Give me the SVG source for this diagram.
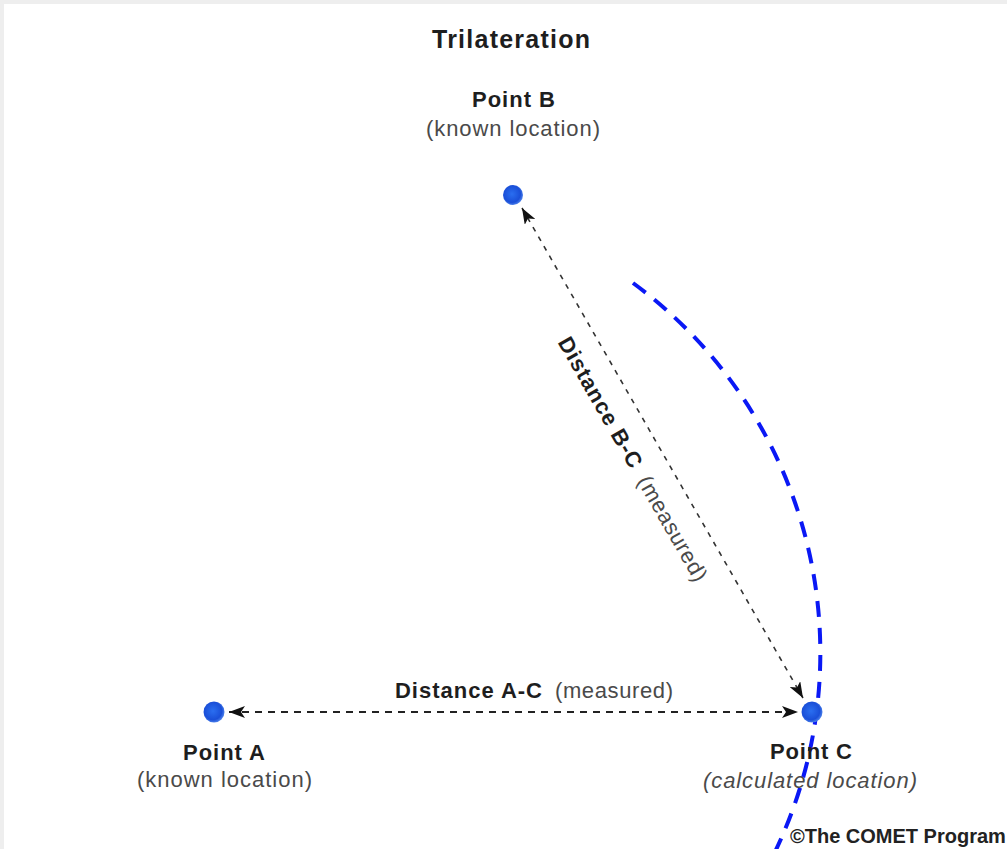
<svg xmlns="http://www.w3.org/2000/svg" width="1007" height="849" viewBox="0 0 1007 849">
<style>
.b{font-family:"Liberation Sans",Arial,sans-serif;font-weight:bold;font-size:22px;fill:#1e1e1e}
.r{font-family:"Liberation Sans",Arial,sans-serif;font-size:22px;fill:#4a4a4a}
.i{font-family:"Liberation Sans",Arial,sans-serif;font-size:22px;font-style:italic;fill:#4a4a4a}
.t{font-family:"Liberation Sans",Arial,sans-serif;font-weight:bold;font-size:25px;fill:#1e1e1e}
.c{font-family:"Liberation Sans",Arial,sans-serif;font-weight:bold;font-size:20px;fill:#222}
.dl{fill:none;stroke:#222;stroke-width:2;stroke-dasharray:7 6}
.dl2{fill:none;stroke:#333;stroke-width:1.6;stroke-dasharray:5 6}
.arc{fill:none;stroke:#0a18f5;stroke-width:4;stroke-dasharray:16 11}
.dot{fill:url(#g)}
</style>
<defs>
<radialGradient id="g" cx="0.45" cy="0.45" r="0.6">
<stop offset="0" stop-color="#2a6ef0"/>
<stop offset="0.7" stop-color="#1a4fd8"/>
<stop offset="1" stop-color="#5a8ff0"/>
</radialGradient>
<marker id="ah" viewBox="0 0 16 12" refX="16" refY="6" markerWidth="16" markerHeight="12" markerUnits="userSpaceOnUse" orient="auto-start-reverse">
<path d="M0,0 L16,6 L0,12 L4,6 Z" fill="#111"/>
</marker>
</defs>
<rect x="0" y="0" width="1007" height="849" fill="#eeeeee"/>
<rect x="4" y="4" width="1003" height="845" fill="#ffffff"/>

<text class="t" x="432" y="48" textLength="158" lengthAdjust="spacing">Trilateration</text>

<g id="connectors">
<line class="dl" x1="229" y1="712" x2="798" y2="712" marker-start="url(#ah)" marker-end="url(#ah)"/>
<line class="dl2" x1="522" y1="208" x2="803" y2="698" marker-start="url(#ah)" marker-end="url(#ah)"/>
<text class="b" x="395" y="698" textLength="147" lengthAdjust="spacing">Distance A-C</text>
<text class="r" x="555" y="698" textLength="118" lengthAdjust="spacing">(measured)</text>
<g transform="translate(522,208) rotate(60.2)">
<text class="b" x="134" y="36" textLength="147" lengthAdjust="spacing">Distance B-C</text>
<text class="r" x="294" y="36" textLength="118" lengthAdjust="spacing">(measured)</text>
</g>
</g>

<g id="arc">
<path class="arc" d="M633,283 A459,459 0 0 1 771,860"/>
</g>

<g id="pointB">
<circle class="dot" cx="513" cy="195" r="10"/>
<text class="b" x="472" y="107" textLength="83" lengthAdjust="spacing">Point B</text>
<text class="r" x="426" y="136" textLength="174" lengthAdjust="spacing">(known location)</text>
</g>

<g id="pointA">
<circle class="dot" cx="214" cy="712" r="10.5"/>
<text class="b" x="183" y="760" textLength="82" lengthAdjust="spacing">Point A</text>
<text class="r" x="137" y="787" textLength="175" lengthAdjust="spacing">(known location)</text>
</g>

<g id="pointC">
<circle class="dot" cx="812" cy="712" r="10.5"/>
<text class="b" x="770" y="759" textLength="82" lengthAdjust="spacing">Point C</text>
<text class="i" x="703" y="788" textLength="214" lengthAdjust="spacing">(calculated location)</text>
</g>

<text class="c" x="790" y="843">©The COMET Program</text>
</svg>
